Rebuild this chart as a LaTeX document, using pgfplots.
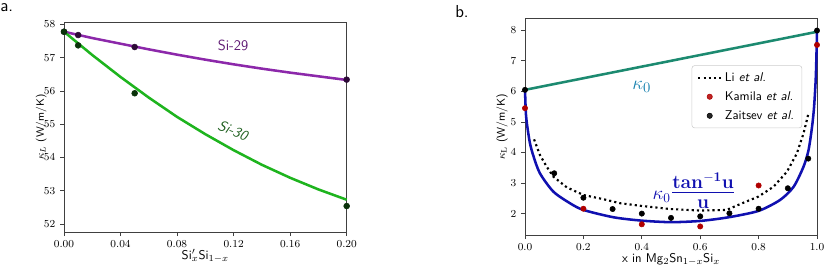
\documentclass[border=0pt]{standalone}
\usepackage{pgfplots}
\pgfplotsset{compat=1.18}
\usepackage{amsmath}
\definecolor{purpleline}{RGB}{140,40,170}
\definecolor{purpletext}{RGB}{95,25,115}
\definecolor{purplept}{RGB}{45,10,55}
\definecolor{greenline}{RGB}{30,180,30}
\definecolor{greentext}{RGB}{30,95,30}
\definecolor{greenpt}{RGB}{10,50,10}
\definecolor{tealline}{RGB}{28,138,112}
\definecolor{kappatext}{RGB}{25,130,175}
\definecolor{blueline}{RGB}{16,16,176}
\definecolor{redpt}{RGB}{176,0,0}
\begin{document}
\begin{tikzpicture}
\useasboundingbox (0,0) rectangle (622.5pt,206.25pt);
\node[font=\sffamily\fontsize{13}{14}\selectfont, anchor=base west, inner sep=0pt] at (0pt,197.25pt) {a.};
\node[font=\sffamily\fontsize{13}{14}\selectfont, anchor=base west, inner sep=0pt] at (341.25pt,192.75pt) {b.};
\begin{axis}[
  at={(48pt,32.25pt)}, anchor=south west,
  width=212pt, height=157.2pt, scale only axis,
  xmin=0, xmax=0.2, ymin=51.76, ymax=58.06,
  xtick={0,0.04,0.08,0.12,0.16,0.2},
  ytick={52,53,54,55,56,57,58},
  scaled x ticks=false,
  tick align=outside, xtick pos=left, ytick pos=left,
  major tick length=3pt,
  axis line style={black!75, line width=0.6pt},
  tick style={black!75, line width=0.6pt},
  x tick label style={font=\fontsize{8.5}{10}\selectfont, /pgf/number format/.cd, fixed, fixed zerofill, precision=2},
  y tick label style={font=\fontsize{8}{10}\selectfont},
  xlabel={\sffamily Si$'_x$Si$_{1-x}$},
  ylabel={\sffamily $\kappa_L$ (W/m/K)},
  xlabel style={font=\fontsize{9.5}{11}\selectfont, at={(axis description cs:0.5,-0.113)}, anchor=center},
  ylabel style={font=\fontsize{8}{10}\selectfont, at={(axis description cs:-0.081,0.5)}, anchor=center, rotate=0},
  clip=false,
]
\addplot[purpleline, line width=1.9pt] coordinates {
 (0,57.78) (0.02,57.59) (0.04,57.42) (0.06,57.25) (0.08,57.09) (0.10,56.94)
 (0.12,56.80) (0.14,56.67) (0.16,56.55) (0.18,56.44) (0.2,56.33)};
\addplot[greenline, line width=1.9pt] coordinates {
 (0,57.78) (0.02,57.08) (0.04,56.42) (0.06,55.80) (0.08,55.22) (0.10,54.70)
 (0.12,54.22) (0.14,53.78) (0.16,53.39) (0.18,53.04) (0.2,52.73)};
\addplot[only marks, mark=*, mark size=2.2pt, purplept] coordinates {
 (0,57.78) (0.01,57.68) (0.05,57.32) (0.2,56.34)};
\addplot[only marks, mark=*, mark size=2.2pt, greenpt] coordinates {
 (0,57.78) (0.01,57.37) (0.05,55.93) (0.2,52.54)};
\node[purpletext, font=\sffamily\fontsize{11}{12}\selectfont] at (axis cs:0.1196,57.36) {Si-29};
\node[greentext, font=\sffamily\itshape\fontsize{11}{12}\selectfont, rotate=-22] at (axis cs:0.1196,54.81) {Si-30};
\end{axis}
\begin{axis}[
  at={(393.75pt,30pt)}, anchor=south west,
  width=219pt, height=162.5pt, scale only axis,
  xmin=0, xmax=1, ymin=1.30, ymax=8.39,
  xtick={0,0.2,0.4,0.6,0.8,1.0},
  ytick={2,3,4,5,6,7,8},
  tick align=outside, xtick pos=left, ytick pos=left,
  major tick length=3pt,
  axis line style={black!75, line width=0.6pt},
  tick style={black!75, line width=0.6pt},
  x tick label style={font=\fontsize{8}{10}\selectfont, /pgf/number format/.cd, fixed, fixed zerofill, precision=1},
  y tick label style={font=\fontsize{8}{10}\selectfont},
  xlabel={\sffamily x in Mg$_2$Sn$_{1-x}$Si$_x$},
  ylabel={\sffamily $\kappa_\mathrm{L}$ (W/m/K)},
  xlabel style={font=\fontsize{9.5}{11}\selectfont, at={(axis description cs:0.5,-0.115)}, anchor=center},
  ylabel style={font=\fontsize{8.5}{10}\selectfont, at={(axis description cs:-0.079,0.5)}, anchor=center, rotate=0},
  legend style={at={(0.949,0.783)}, anchor=north east, draw=black!20, rounded corners=2pt,
    fill=white, fill opacity=0.85, text opacity=1, font=\sffamily\fontsize{9.5}{11}\selectfont,
    row sep=2.2pt, inner xsep=4pt, inner ysep=3pt},
  legend cell align=left,
  clip=false,
]
\addplot[tealline, line width=1.9pt, forget plot] coordinates {(0,6.05) (1,7.95)};
\addplot[blueline, line width=1.9pt, smooth, tension=0.45, forget plot] coordinates {
 (0,6.05) (0.003,5.28) (0.008,4.84) (0.017,4.30) (0.029,3.88) (0.051,3.32) (0.097,2.72)
 (0.154,2.34) (0.2,2.12) (0.303,1.88) (0.4,1.77) (0.5,1.72) (0.6,1.76) (0.697,1.88)
 (0.8,2.09) (0.874,2.45) (0.92,2.88) (0.954,3.54) (0.971,4.08) (0.983,4.84) (0.99,5.5)
 (0.996,6.5) (1.0,7.95)};
\addplot[black, line width=1.6pt, dash pattern=on 1.6pt off 2.3pt] coordinates {
 (0.031,4.43) (0.051,3.92) (0.074,3.54) (0.097,3.21) (0.143,2.86) (0.2,2.61) (0.269,2.47)
 (0.326,2.34) (0.4,2.25) (0.497,2.15) (0.6,2.10) (0.69,2.12) (0.749,2.36) (0.8,2.56)
 (0.851,2.88) (0.897,3.37) (0.931,3.97) (0.954,4.63) (0.97,5.25)};
\addlegendentry{Li \textit{et al.}}
\addplot[only marks, mark=*, mark size=2pt, redpt] coordinates {
 (0,5.45) (0.2,2.16) (0.4,1.65) (0.6,1.58) (0.8,2.92) (1.0,7.52)};
\addlegendentry{Kamila \textit{et al.}}
\addplot[only marks, mark=*, mark size=2pt, black] coordinates {
 (0,6.05) (0.1,3.32) (0.2,2.52) (0.3,2.15) (0.4,2.0) (0.5,1.86) (0.6,1.91) (0.7,2.01)
 (0.8,2.16) (0.9,2.83) (0.97,3.80) (1.0,7.99)};
\addlegendentry{Zaitsev \textit{et al.}}
\node[kappatext, font=\fontsize{15}{16}\selectfont] at (axis cs:0.40,6.14) {$\kappa_0$};
\node[blueline, font=\fontsize{14}{16}\selectfont, inner sep=0pt] at (axis cs:0.579,2.74) {$\kappa_0${\fontsize{20}{22}\selectfont$\frac{\mathbf{tan^{-1}u}}{\mathbf{u}}$}};
\end{axis}
\end{tikzpicture}
\end{document}
